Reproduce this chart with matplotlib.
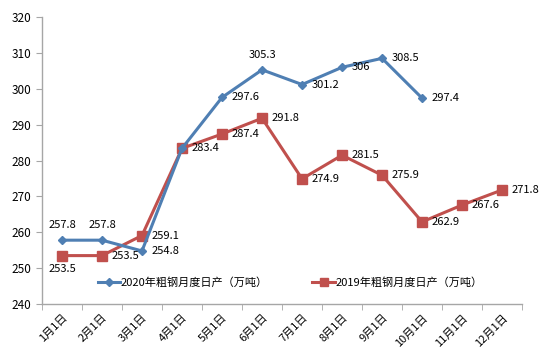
import matplotlib
matplotlib.use("Agg")
import matplotlib.pyplot as plt
import numpy as np

plt.rcParams['font.family'] = ['Noto Sans CJK SC', 'DejaVu Sans']

months = ["1月1日", "2月1日", "3月1日", "4月1日", "5月1日", "6月1日",
          "7月1日", "8月1日", "9月1日", "10月1日", "11月1日", "12月1日"]
vals_2020 = [257.8, 257.8, 254.8, 283.4, 297.6, 305.3, 301.2, 306, 308.5, 297.4]
vals_2019 = [253.5, 253.5, 259.1, 283.4, 287.4, 291.8, 274.9, 281.5, 275.9,
             262.9, 267.6, 271.8]
# where each data label sits: 'a' above, 'r' right, 'b' below, '' none
pos_2020 = ['a', 'a', 'r', '', 'r', 'a', 'r', 'r', 'r', 'r']
pos_2019 = ['b', 'r', 'r', 'r', 'r', 'r', 'r', 'r', 'r', 'r', 'r', 'r']

c_blue = "#4f7fb3"
c_red = "#c0504d"
axis_col = "#a6a6a6"

fig = plt.figure(figsize=(5.45, 3.56), dpi=100)
ax = fig.add_axes([0.077, 0.146, 0.881, 0.806])

x20 = np.arange(len(vals_2020))
x19 = np.arange(len(vals_2019))
ax.plot(x20, vals_2020, color=c_blue, lw=2.2, marker='D', ms=4.5,
        label="2020年粗钢月度日产（万吨）", zorder=3)
ax.plot(x19, vals_2019, color=c_red, lw=2.2, marker='s', ms=6.5,
        label="2019年粗钢月度日产（万吨）", zorder=2)


def put_labels(xs, ys, where):
    for x, y, w in zip(xs, ys, where):
        txt = "%g" % y
        if w == 'a':
            ax.annotate(txt, (x, y), xytext=(0, 7), textcoords='offset points',
                        ha='center', va='bottom', fontsize=8)
        elif w == 'b':
            ax.annotate(txt, (x, y), xytext=(0, -6), textcoords='offset points',
                        ha='center', va='top', fontsize=8)
        elif w == 'r':
            ax.annotate(txt, (x, y), xytext=(7, 0), textcoords='offset points',
                        ha='left', va='center', fontsize=8)


put_labels(x20, vals_2020, pos_2020)
put_labels(x19, vals_2019, pos_2019)

ax.set_xlim(-0.5, 11.5)
ax.set_ylim(240, 320)
ax.set_yticks(np.arange(240, 321, 10))
ax.set_xticks(np.arange(12))
ax.set_xticklabels(months, rotation=45, ha='right', rotation_mode='anchor')
ax.set_xticks(np.arange(-0.5, 12, 1), minor=True)
ax.tick_params(axis='x', which='major', length=0, pad=6, labelsize=8)
ax.tick_params(axis='x', which='minor', length=4, color=axis_col)
ax.tick_params(axis='y', length=4, color=axis_col, labelsize=8.5)

for s in ['top', 'right']:
    ax.spines[s].set_visible(False)
for s in ['left', 'bottom']:
    ax.spines[s].set_color(axis_col)
    ax.spines[s].set_linewidth(1)

leg = ax.legend(loc='lower left', bbox_to_anchor=(0.095, 0.02), ncol=2,
                frameon=False, fontsize=8, handlelength=2.0,
                handletextpad=0.1, columnspacing=4.0, markerscale=0.8)

fig.savefig("out.png", dpi=100)
